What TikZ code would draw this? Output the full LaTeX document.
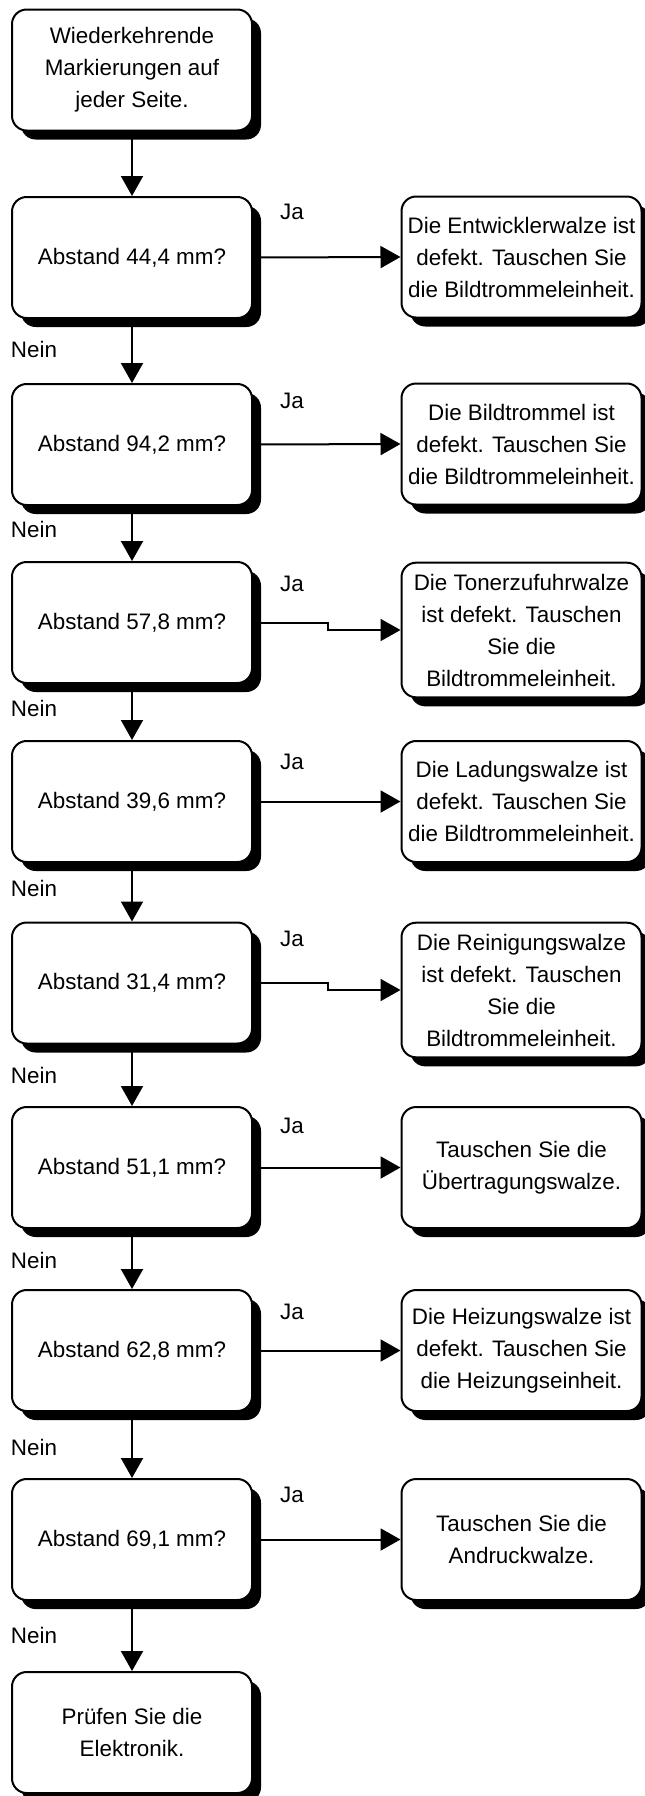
\documentclass[tikz,border=0pt]{standalone}
\usepackage{fontspec}
\setmainfont{Liberation Sans}
\usetikzlibrary{arrows.meta,shadows}

\tikzset{
  box/.style={draw, line width=1.5pt, fill=white, rounded corners=11pt,
    minimum width=180pt, minimum height=90.75pt, align=center, inner sep=0pt,
    drop shadow={shadow xshift=6.75pt, shadow yshift=-6.75pt, opacity=1, fill=black}},
  tallbox/.style={box, minimum height=101pt},
  lbl/.style={inner sep=0pt},
}

\begin{document}
\begin{tikzpicture}[x=0.75pt, y=-0.75pt, line width=1.5pt,
    >={Triangle[length=15pt,width=16.5pt]},
    font=\fontsize{16.8pt}{24pt}\selectfont]

    \useasboundingbox (0,0) rectangle (645,1796);

    % Start
    \node[box] (start) at (132,70) {Wiederkehrende\\Markierungen auf\\jeder Seite.};

    % Abfragen
    \node[box] (q1) at (132,257.5) {Abstand 44,4 mm?};
    \node[box] (q2) at (132,444.5) {Abstand 94,2 mm?};
    \node[box] (q3) at (132,622.5) {Abstand 57,8 mm?};
    \node[box] (q4) at (132,801.5) {Abstand 39,6 mm?};
    \node[box] (q5) at (132,983) {Abstand 31,4 mm?};
    \node[box] (q6) at (132,1167.5) {Abstand 51,1 mm?};
    \node[box] (q7) at (132,1350.5) {Abstand 62,8 mm?};
    \node[box] (q8) at (132,1539.5) {Abstand 69,1 mm?};

    % Ende
    \node[box] (ende) at (132,1732.5) {Prüfen Sie die\\Elektronik.};

    % Abhilfen
    \node[box] (a1) at (521.5,257) {Die Entwicklerwalze ist\\defekt. Tauschen Sie\\die Bildtrommeleinheit.};
    \node[box] (a2) at (521.5,444) {Die Bildtrommel ist\\defekt. Tauschen Sie\\die Bildtrommeleinheit.};
    \node[tallbox] (a3) at (521.5,630) {Die Tonerzufuhrwalze\\ist defekt. Tauschen\\Sie die\\Bildtrommeleinheit.};
    \node[box] (a4) at (521.5,801.5) {Die Ladungswalze ist\\defekt. Tauschen Sie\\die Bildtrommeleinheit.};
    \node[tallbox] (a5) at (521.5,990) {Die Reinigungswalze\\ist defekt. Tauschen\\Sie die\\Bildtrommeleinheit.};
    \node[box] (a6) at (521.5,1167.5) {Tauschen Sie die\\Übertragungswalze.};
    \node[box] (a7) at (521.5,1350.5) {Die Heizungswalze ist\\defekt. Tauschen Sie\\die Heizungseinheit.};
    \node[box] (a8) at (521.5,1539.5) {Tauschen Sie die\\Andruckwalze.};

    % Pfeile nach unten
    \draw[->] (start.south) -- (q1.north);
    \draw[->] (q1.south) -- (q2.north);
    \draw[->] (q2.south) -- (q3.north);
    \draw[->] (q3.south) -- (q4.north);
    \draw[->] (q4.south) -- (q5.north);
    \draw[->] (q5.south) -- (q6.north);
    \draw[->] (q6.south) -- (q7.north);
    \draw[->] (q7.south) -- (q8.north);
    \draw[->] (q8.south) -- (ende.north);

    % Pfeile nach rechts
    \coordinate (knick) at (328,0);
    \draw[->] (q1.east) -- (a1.west);
    \draw[->] (q2.east) -- (a2.west);
    \draw[->] (q3.east) -- (q3.east -| knick) |- (a3.west);
    \draw[->] (q4.east) -- (a4.west);
    \draw[->] (q5.east) -- (q5.east -| knick) |- (a5.west);
    \draw[->] (q6.east) -- (a6.west);
    \draw[->] (q7.east) -- (a7.west);
    \draw[->] (q8.east) -- (a8.west);

    % Ja
    \node[lbl] (ja1) at (292,212) {Ja};
    \node[lbl] (ja2) at (292,401) {Ja};
    \node[lbl] (ja3) at (292,584) {Ja};
    \node[lbl] (ja4) at (292,762) {Ja};
    \node[lbl] (ja5) at (292,939) {Ja};
    \node[lbl] (ja6) at (292,1126) {Ja};
    \node[lbl] (ja7) at (292,1312) {Ja};
    \node[lbl] (ja8) at (292,1495) {Ja};

    % Nein
    \node[lbl] (nein1) at (34,349) {Nein};
    \node[lbl] (nein2) at (34,529) {Nein};
    \node[lbl] (nein3) at (34,708) {Nein};
    \node[lbl] (nein4) at (34,888) {Nein};
    \node[lbl] (nein5) at (34,1075) {Nein};
    \node[lbl] (nein6) at (34,1260) {Nein};
    \node[lbl] (nein7) at (34,1447) {Nein};
    \node[lbl] (nein8) at (34,1635) {Nein};

\end{tikzpicture}
\end{document}
